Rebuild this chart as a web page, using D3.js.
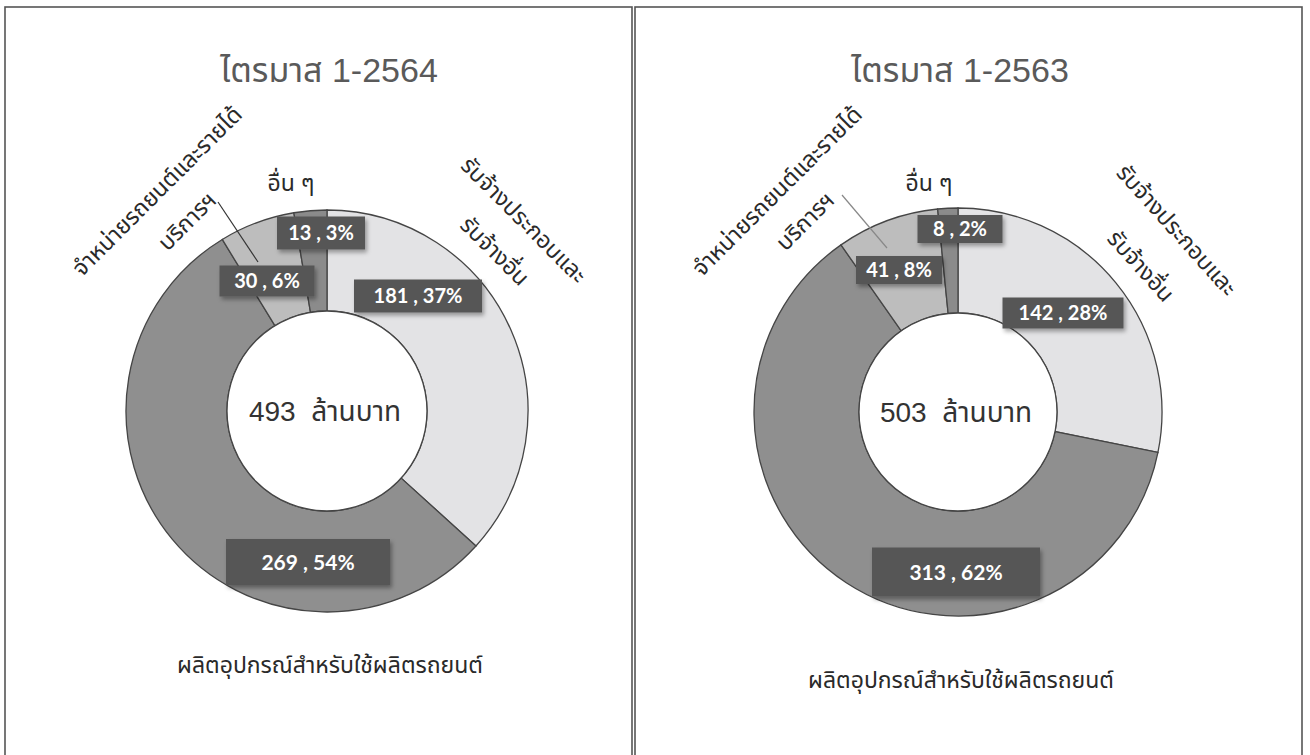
<!DOCTYPE html>
<meta charset="utf-8">
<head>
    <script src="https://d3js.org/d3.v7.min.js"></script>
</head>
<style>
    body { margin: 0; background: #fff; }
    .title { font-family: "Liberation Sans", "Noto Sans Thai", "Noto Sans", sans-serif; font-size: 34px; fill: #5a5a5a; }
    .cat { font-family: "Noto Sans Thai", "Noto Sans", "DejaVu Sans", sans-serif; font-size: 23px; fill: #2a2a2a; }
    .total { font-family: "Liberation Sans", "Noto Sans Thai", sans-serif; font-size: 28px; fill: #333; }
    .boxtext { font-family: Lato, "Open Sans", sans-serif; font-weight: bold; font-size: 20px; fill: #fff; }
    .slice { stroke: #454545; stroke-width: 1.3px; }
</style>
<div id="my_dataviz"></div>
<script>

    // data
    var titles = ["ไตรมาส 1-2564", "ไตรมาส 1-2563"];
    var categories = ["รับจ้างประกอบและรับจ้างอื่น", "ผลิตอุปกรณ์สำหรับใช้ผลิตรถยนต์", "จำหน่ายรถยนต์และรายได้บริการฯ", "อื่น ๆ"];
    var values2564 = [181, 269, 30, 13];
    var pct2564 = [37, 54, 6, 3];
    var values2563 = [142, 313, 41, 8];
    var pct2563 = [28, 62, 8, 2];
    var totals = [493, 503];
    var unit = "ล้านบาท";

    var width = 1310, height = 755;

    var svg = d3.select("#my_dataviz")
        .append("svg")
        .attr("width", width)
        .attr("height", height);

    var defs = svg.append("defs");
    defs.append("filter").attr("id", "shadow")
        .attr("x", "-20%").attr("y", "-20%").attr("width", "150%").attr("height", "160%")
        .append("feDropShadow")
        .attr("dx", 2).attr("dy", 3).attr("stdDeviation", 2)
        .attr("flood-color", "#000").attr("flood-opacity", 0.35);

    var color = d3.scaleOrdinal()
        .domain(categories)
        .range(["#e3e3e5", "#8f8f8f", "#bdbdbd", "#8b8b8b"]);

    // panel layout (position, radius, label offsets)
    var panels = [
        { x0: 5, x1: 632, cx: 327, cy: 411, r: 201, inner: 100,
          values: values2564, pct: pct2564, title: titles[0], total: totals[0],
          boxes: [[91, -115, 128, 33], [-19, 151, 164, 46], [-60, -130, 95, 31], [-6, -178, 88, 33]],
          leader: [[-109, -209], [-69, -149], "#333"],
          other: [-36, -228],
          dealer: [[-170, -220], [-140, -190], -45],
          contract: [[197, -191], [168, -160], 45],
          bottom: [3, 254] },
        { x0: 635, x1: 1302, cx: 958, cy: 412, r: 204, inner: 99,
          values: values2563, pct: pct2563, title: titles[1], total: totals[1],
          boxes: [[105, -99, 121, 31], [-2, 160, 168, 49], [-59, -142, 86, 28], [2, -183, 85, 28]],
          leader: [[-116, -217], [-71, -164], "#888"],
          other: [-29, -229],
          dealer: [[-181, -221], [-153, -191], -45],
          contract: [[219, -182], [183, -146], 48],
          bottom: [3, 268] }
    ];

    var pie = d3.pie().sort(null).value(function(d) { return d; });

    panels.forEach(function(p) {
        // border
        svg.append("rect")
            .attr("x", p.x0).attr("y", 7)
            .attr("width", p.x1 - p.x0).attr("height", height)
            .attr("fill", "none").attr("stroke", "#555").attr("stroke-width", 1.6);

        svg.append("text")
            .attr("class", "title")
            .attr("text-anchor", "middle")
            .attr("x", p.cx + 2).attr("y", 82)
            .text(p.title);

        var g = svg.append("g")
            .attr("transform", "translate(" + p.cx + "," + p.cy + ")");

        var arc = d3.arc().innerRadius(p.inner).outerRadius(p.r);
        var arcs = pie(p.values);

        g.selectAll("path.slice")
            .data(arcs)
            .enter()
            .append("path")
            .attr("class", "slice")
            .attr("d", arc)
            .style("fill", function(d, i) { return color(categories[i]); });

        // centre hole
        g.append("circle").attr("r", p.inner).attr("fill", "#fff")
            .attr("stroke", "#454545").attr("stroke-width", 1.3);

        g.append("text")
            .attr("class", "total")
            .attr("text-anchor", "middle")
            .attr("x", -2).attr("y", 10)
            .attr("xml:space", "preserve")
            .text(p.total + "  " + unit);

        // leader line for dealer slice
        g.append("line")
            .attr("x1", p.leader[0][0]).attr("y1", p.leader[0][1])
            .attr("x2", p.leader[1][0]).attr("y2", p.leader[1][1])
            .attr("stroke", p.leader[2]).attr("stroke-width", 1.2);

        // value boxes
        arcs.forEach(function(d, i) {
            var b = p.boxes[i];
            var lg = g.append("g").attr("transform", "translate(" + b[0] + "," + b[1] + ")");
            lg.append("rect")
                .attr("x", -b[2] / 2).attr("y", -b[3] / 2)
                .attr("width", b[2]).attr("height", b[3])
                .attr("fill", "#575757")
                .attr("filter", "url(#shadow)");
            lg.append("text")
                .attr("class", "boxtext")
                .attr("text-anchor", "middle")
                .attr("dy", "0.36em")
                .style("font-size", i === 1 ? "21px" : "20px")
                .text(d.data + " , " + p.pct[i] + "%");
        });

        // category labels
        g.append("text").attr("class", "cat")
            .attr("text-anchor", "middle")
            .attr("x", p.other[0]).attr("y", p.other[1]).attr("dy", "0.35em")
            .text(categories[3]);

        var dealerLines = ["จำหน่ายรถยนต์และรายได้", "บริการฯ"];
        dealerLines.forEach(function(t, k) {
            var pos = p.dealer[k];
            g.append("text").attr("class", "cat")
                .attr("text-anchor", "middle")
                .attr("transform", "translate(" + pos[0] + "," + pos[1] + ") rotate(" + p.dealer[2] + ")")
                .attr("dy", "0.35em")
                .text(t);
        });

        var contractLines = ["รับจ้างประกอบและ", "รับจ้างอื่น"];
        contractLines.forEach(function(t, k) {
            var pos = p.contract[k];
            g.append("text").attr("class", "cat")
                .attr("text-anchor", "middle")
                .attr("transform", "translate(" + pos[0] + "," + pos[1] + ") rotate(" + p.contract[2] + ")")
                .attr("dy", "0.35em")
                .text(t);
        });

        g.append("text").attr("class", "cat")
            .attr("text-anchor", "middle")
            .attr("x", p.bottom[0]).attr("y", p.bottom[1]).attr("dy", "0.35em")
            .style("font-size", "23px")
            .text(categories[1]);
    });
</script>
